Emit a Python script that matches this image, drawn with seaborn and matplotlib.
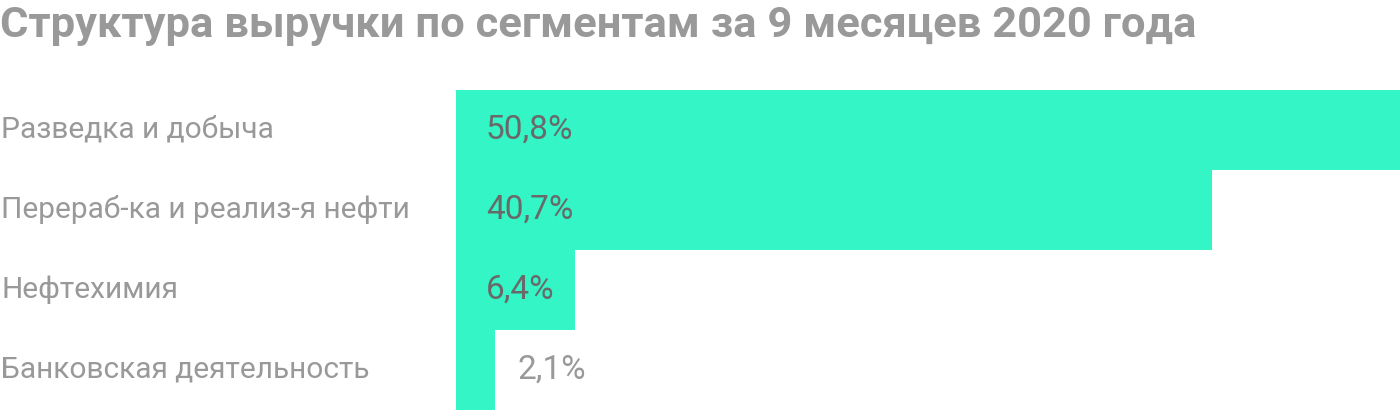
import pandas as pd
import matplotlib.pyplot as plt
import matplotlib.transforms as mtransforms
import seaborn as sns

# Data
segments = ['Разведка и добыча', 'Перераб-ка и реализ-я нефти', 'Нефтехимия', 'Банковская деятельность']
shares = [50.8, 40.7, 6.4, 2.1]
share_labels = ['50,8%', '40,7%', '6,4%', '2,1%']

data = pd.DataFrame({'segment': segments, 'share': shares})

sns.set_theme(style='white')
plt.rcParams['font.family'] = ['Roboto', 'DejaVu Sans']

fig = plt.figure(figsize=(14, 4.12), dpi=100)
ax = fig.add_axes([456 / 1400, 2 / 412, 944 / 1400, 320 / 412])

sns.barplot(data=data, x='share', y='segment', orient='h', color='#33f5c5',
            saturation=1, width=1.0, linewidth=0, ax=ax)
ax.set_xlim(0, 50.8)
ax.set_ylim(3.5, -0.5)
ax.axis('off')

# category labels at the left edge of the figure
trans = mtransforms.blended_transform_factory(fig.transFigure, ax.transData)
for i, seg in enumerate(segments):
    ax.text(1 / 1400, i, seg, transform=trans, ha='left', va='center',
            fontsize=21.5, color='#999999')

# value labels: inside the bar if it is wide enough
px = 50.8 / 944
for i, (v, lab) in enumerate(zip(shares, share_labels)):
    if v > 4:
        ax.text(30 * px, i, lab, ha='left', va='center', fontsize=24, color='#696969')
    else:
        ax.text(v + 22 * px, i, lab, ha='left', va='center', fontsize=24, color='#999999')

fig.text(0, 1 - 25 / 412, 'Структура выручки по сегментам за 9 месяцев 2020 года',
         ha='left', va='center', fontsize=31.3, fontweight='bold', color='#999999')

fig.savefig('out.png', dpi=100)
